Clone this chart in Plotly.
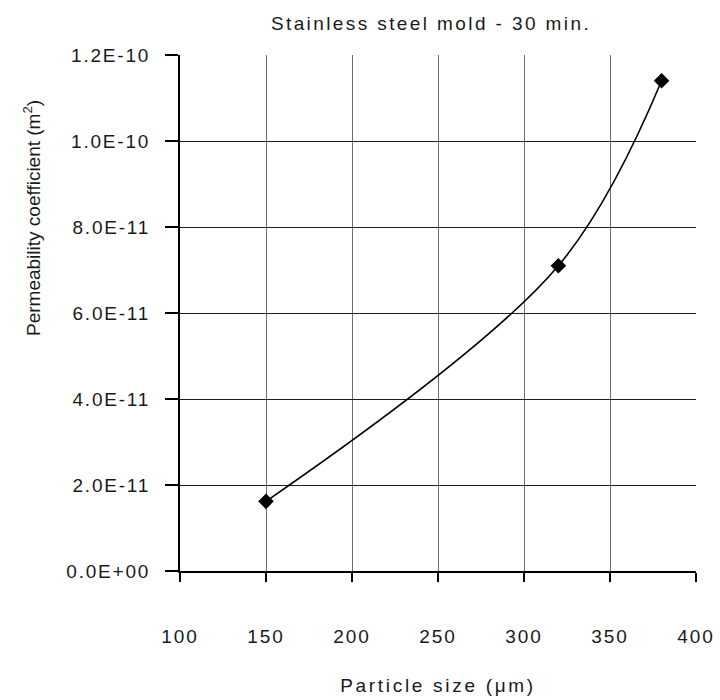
import plotly.graph_objects as go

# Particle size (µm) vs permeability coefficient (m²)
particle_size = [150, 320, 380]
permeability = [1.62e-11, 7.1e-11, 1.14e-10]

x_ticks = [100, 150, 200, 250, 300, 350, 400]
y_ticks = [0, 2e-11, 4e-11, 6e-11, 8e-11, 1e-10, 1.2e-10]
y_tick_text = ["0.0E+00", "2.0E-11", "4.0E-11", "6.0E-11", "8.0E-11", "1.0E-10", "1.2E-10"]

FONT = "Liberation Sans, Arial, sans-serif"
FS = 19
TXT = "#1a1a1a"


def wide(s, sp=2.5):
    """Wrap text so it is drawn with extra letter spacing."""
    return f'<span style="letter-spacing:{sp}px">{s}</span>'


fig = go.Figure()
fig.add_trace(go.Scatter(
    x=particle_size,
    y=permeability,
    mode="lines+markers",
    line=dict(color="black", width=1.6, shape="spline", smoothing=1.0),
    marker=dict(symbol="diamond", size=12, color="black"),
    showlegend=False,
))

fig.update_layout(
    width=720,
    height=700,
    margin=dict(l=180, r=24, t=55, b=129, autoexpand=False),
    paper_bgcolor="white",
    plot_bgcolor="white",
    font=dict(family=FONT, size=FS, color=TXT),
    title=dict(
        text=wide("Stainless steel mold - 30 min.", 2.4),
        x=431 / 720, xanchor="center", xref="container",
        y=1 - 23 / 700, yanchor="middle", yref="container",
        font=dict(size=FS, family=FONT, color=TXT),
    ),
)

fig.update_xaxes(
    range=[100, 400],
    tickvals=x_ticks,
    ticktext=[wide(str(v), 2) for v in x_ticks],
    ticks="outside", ticklen=9, tickwidth=2, tickcolor="black",
    ticklabelstandoff=38,
    automargin=False,
    showline=True, linecolor="black", linewidth=2,
    showgrid=True, gridcolor="#6e6e6e", gridwidth=1,
    zeroline=False,
    title=dict(text=wide("Particle size (μm)", 2.7), standoff=33, font=dict(size=FS, family=FONT)),
)

fig.update_yaxes(
    range=[0, 1.2e-10],
    tickvals=y_ticks,
    ticktext=[wide(t, 1.8) for t in y_tick_text],
    ticks="outside", ticklen=13, tickwidth=2, tickcolor="black",
    ticklabelstandoff=11,
    automargin=False,
    showline=True, linecolor="black", linewidth=2,
    showgrid=True, gridcolor="#1e1e1e", gridwidth=1,
    zeroline=False,
)

# Vertical axis label, placed toward the upper part of the left margin
fig.add_annotation(
    text="Permeability coefficient (m<sup>2</sup>)",
    textangle=-90,
    xref="paper", yref="paper",
    x=-148 / 516, y=(571 - 218) / 516,
    xanchor="center", yanchor="middle",
    showarrow=False,
    font=dict(size=19, family=FONT, color=TXT),
)

fig.write_html("out.html")
